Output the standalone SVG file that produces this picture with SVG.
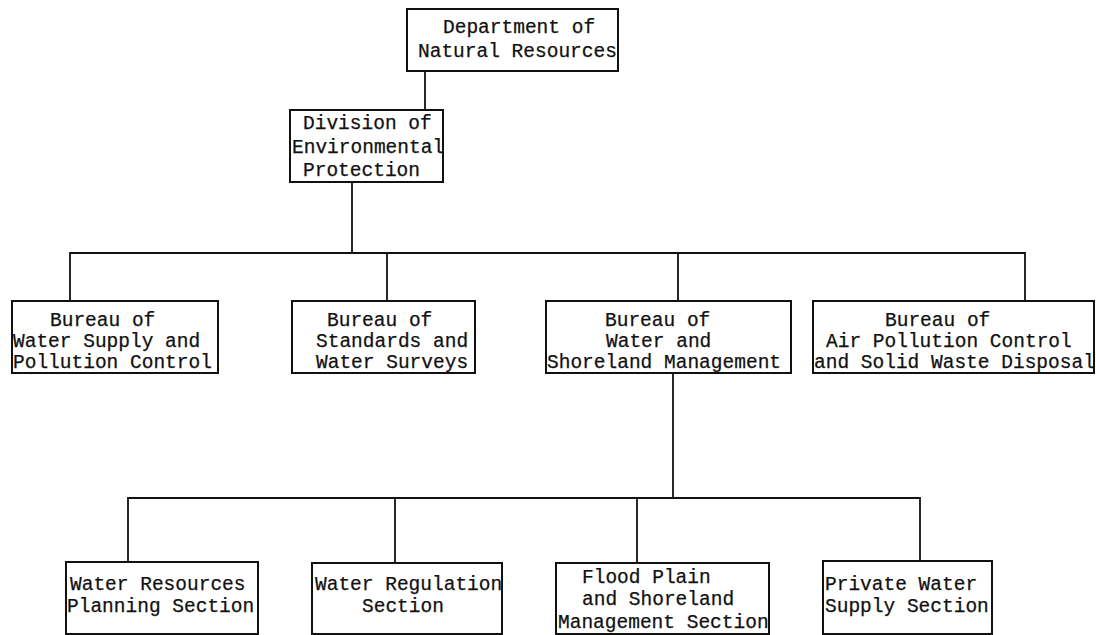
<svg xmlns="http://www.w3.org/2000/svg" width="1096" height="635" viewBox="0 0 1096 635">
<style>
.box{fill:#fff;stroke:#111;stroke-width:2}
.conn{fill:none;stroke:#111;stroke-width:1.8}
text{font-family:"Liberation Mono","DejaVu Sans Mono",monospace;font-size:19.5px;fill:#111;stroke:#111;stroke-width:0.25}
</style>
<rect width="1096" height="635" fill="#fff"/>
<g id="connectors">
<path class="conn" d="M425 71V110"/>
<path class="conn" d="M352 182V253"/>
<path class="conn" d="M70 301V253H1025V301"/>
<path class="conn" d="M387 253V301"/>
<path class="conn" d="M678 253V301"/>
<path class="conn" d="M673 373V498"/>
<path class="conn" d="M128 562V498H920V561"/>
<path class="conn" d="M395 498V563"/>
<path class="conn" d="M637 498V563"/>
</g>
<g id="dnr">
<rect class="box" x="407" y="9" width="211" height="62"/>
<text x="443" y="33">Department of</text>
<text x="418" y="57">Natural Resources</text>
</g>
<g id="dep">
<rect class="box" x="290" y="110" width="153" height="72"/>
<text x="303" y="129">Division of</text>
<text x="292" y="153">Environmental</text>
<text x="303" y="176">Protection</text>
</g>
<g id="bureau-water-supply">
<rect class="box" x="12" y="301" width="206" height="72"/>
<text x="50" y="326">Bureau of</text>
<text x="13" y="347">Water Supply and</text>
<text x="13" y="368">Pollution Control</text>
</g>
<g id="bureau-standards">
<rect class="box" x="292" y="301" width="183" height="72"/>
<text x="327" y="326">Bureau of</text>
<text x="316" y="347">Standards and</text>
<text x="316" y="368">Water Surveys</text>
</g>
<g id="bureau-shoreland">
<rect class="box" x="546" y="301" width="245" height="72"/>
<text x="605" y="326">Bureau of</text>
<text x="606" y="347">Water and</text>
<text x="547" y="368">Shoreland Management</text>
</g>
<g id="bureau-air">
<rect class="box" x="813" y="301" width="281" height="72"/>
<text x="885" y="326">Bureau of</text>
<text x="826" y="347">Air Pollution Control</text>
<text x="814" y="368">and Solid Waste Disposal</text>
</g>
<g id="sec-planning">
<rect class="box" x="66" y="562" width="192" height="72"/>
<text x="70" y="590">Water Resources</text>
<text x="67" y="612">Planning Section</text>
</g>
<g id="sec-regulation">
<rect class="box" x="312" y="563" width="190" height="71"/>
<text x="315" y="590">Water Regulation</text>
<text x="362" y="612">Section</text>
</g>
<g id="sec-floodplain">
<rect class="box" x="556" y="563" width="213" height="71"/>
<text x="582" y="583">Flood Plain</text>
<text x="582" y="605">and Shoreland</text>
<text x="558" y="628">Management Section</text>
</g>
<g id="sec-private">
<rect class="box" x="823" y="561" width="169" height="73"/>
<text x="825" y="590">Private Water</text>
<text x="825" y="612">Supply Section</text>
</g>
</svg>
